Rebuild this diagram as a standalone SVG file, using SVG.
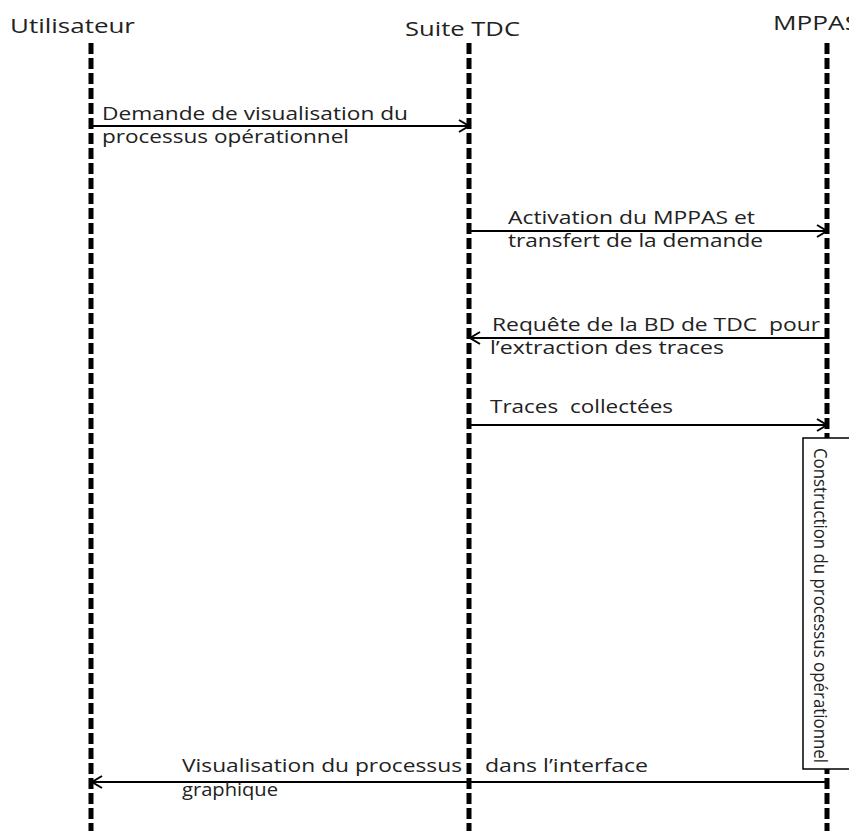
<svg xmlns="http://www.w3.org/2000/svg" width="849" height="831" viewBox="0 0 849 831">
<style>
  text { font-family: "Open Sans", "Liberation Sans", sans-serif; fill: #222; }
  .title { font-size: 20px; }
  .lbl { font-size: 18px; }
  .pre { white-space: pre; }
  .life { stroke: #000; stroke-width: 5; stroke-dasharray: 11 4; fill: none; }
  .msg { stroke: #000; stroke-width: 2; fill: none; }
</style>
<defs>
  <marker id="arr" markerUnits="userSpaceOnUse" markerWidth="16" markerHeight="16" refX="12" refY="8" orient="auto">
    <path d="M2,2 L12,8 L2,14" fill="none" stroke="#000" stroke-width="2"/>
  </marker>
</defs>
<rect width="849" height="831" fill="#fff"/>
<g id="utilisateur">
  <text class="title" x="10" y="33" textLength="125" lengthAdjust="spacingAndGlyphs">Utilisateur</text>
  <line class="life" x1="91" y1="43" x2="91" y2="831"/>
</g>
<g id="suite-tdc">
  <text class="title" x="405" y="36" textLength="115" lengthAdjust="spacingAndGlyphs">Suite TDC</text>
  <line class="life" x1="469" y1="43" x2="469" y2="831"/>
</g>
<g id="mppas">
  <text class="title" x="773" y="30" textLength="86" lengthAdjust="spacingAndGlyphs">MPPAS</text>
  <line class="life" x1="827" y1="43" x2="827" y2="831"/>
</g>
<g id="connectors">
  <line class="msg" x1="89" y1="126" x2="469" y2="126" marker-end="url(#arr)"/>
  <line class="msg" x1="467" y1="231" x2="827" y2="231" marker-end="url(#arr)"/>
  <line class="msg" x1="829" y1="338" x2="470" y2="338" marker-end="url(#arr)"/>
  <line class="msg" x1="467" y1="425" x2="827" y2="425" marker-end="url(#arr)"/>
  <line class="msg" x1="829" y1="782" x2="92" y2="782" marker-end="url(#arr)"/>
</g>
<g id="labels">
  <text class="lbl" x="102" y="120" textLength="306" lengthAdjust="spacingAndGlyphs">Demande de visualisation du</text>
  <text class="lbl" x="102" y="143" textLength="247" lengthAdjust="spacingAndGlyphs">processus opérationnel</text>
  <text class="lbl" x="508" y="224" textLength="247" lengthAdjust="spacingAndGlyphs">Activation du MPPAS et</text>
  <text class="lbl" x="508" y="247" textLength="255" lengthAdjust="spacingAndGlyphs">transfert de la demande</text>
  <text class="lbl pre" x="492" y="331" textLength="328" lengthAdjust="spacingAndGlyphs">Requête de la BD de TDC  pour</text>
  <text class="lbl" x="490" y="354" textLength="234" lengthAdjust="spacingAndGlyphs">l’extraction des traces</text>
  <text class="lbl pre" x="490" y="413" textLength="183" lengthAdjust="spacingAndGlyphs">Traces  collectées</text>
  <text class="lbl" x="182" y="772" textLength="280" lengthAdjust="spacingAndGlyphs">Visualisation du processus</text>
  <text class="lbl" x="485" y="772" textLength="163" lengthAdjust="spacingAndGlyphs">dans l’interface</text>
  <text class="lbl" x="182" y="796" textLength="96" lengthAdjust="spacingAndGlyphs">graphique</text>
</g>
<g id="construction">
  <rect x="803" y="438" width="60" height="331" fill="#fff" stroke="#000" stroke-width="1.5"/>
  <text class="lbl" transform="translate(814,448) rotate(90)" x="0" y="0" textLength="315" lengthAdjust="spacingAndGlyphs">Construction du processus opérationnel</text>
</g>
</svg>
